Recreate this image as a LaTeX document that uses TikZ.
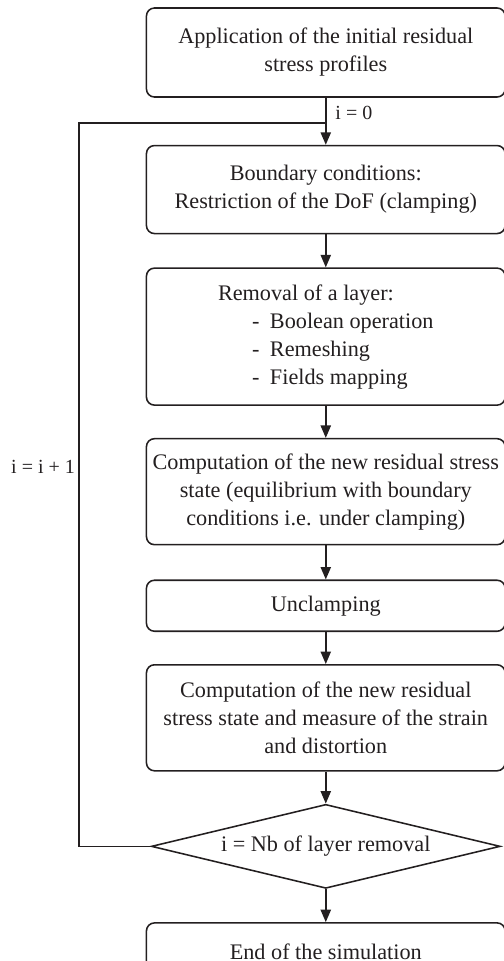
\documentclass[tikz,border=0pt]{standalone}
\usepackage{fontspec}
\setmainfont{Liberation Serif}
\usetikzlibrary{shapes.geometric, arrows.meta, positioning, calc}
\definecolor{inkDark}{HTML}{231F20}

\begin{document}
\begin{tikzpicture}[
  every node/.style={font=\fontsize{10}{12.6}\selectfont, text=inkDark},
  flowBox/.style={draw=inkDark, rounded corners=3.6pt, line width=0.7pt, align=center, inner xsep=0.5pt, inner ysep=0pt, minimum width=161.4pt},
  decNode/.style={draw=inkDark, diamond, aspect=4.15, line width=0.7pt, inner sep=0pt, minimum width=157pt, minimum height=37.8pt},
  flowArrow/.style={draw=inkDark, line width=0.7pt, -{Triangle[length=5.6pt, width=4.6pt]}},
  loopLine/.style={draw=inkDark, line width=0.7pt},
  stepLabel/.style={font=\fontsize{9}{11}\selectfont, inner sep=1.5pt}
]
  \useasboundingbox (0,0) rectangle (226.8pt,-432.45pt);

  \node[flowBox, minimum height=40.05pt] (app) at (146.6pt,-23.63pt) {Application of the initial residual\\stress profiles};

  \node[flowBox, minimum height=39.6pt, below=21.15pt of app] (bc) {Boundary conditions:\\Restriction of the DoF (clamping)};

  \node[flowBox, minimum height=61.65pt, below=14.85pt of bc, align=left] (rem) {Removal of a layer:\\
    \hspace*{15.3pt}\makebox[8.1pt][l]{-}Boolean operation\\
    \hspace*{15.3pt}\makebox[8.1pt][l]{-}Remeshing\\
    \hspace*{15.3pt}\makebox[8.1pt][l]{-}Fields mapping};

  \node[flowBox, minimum height=47.7pt, below=14.4pt of rem] (eq) {Computation of the new residual stress\\state (equilibrium with boundary\\conditions i.e. under clamping)};

  \node[flowBox, minimum height=22.95pt, below=15.3pt of eq] (uncl) {Unclamping};

  \node[flowBox, minimum height=47.7pt, below=14.4pt of uncl] (dist) {Computation of the new residual\\stress state and measure of the strain\\and distortion};

  \node[decNode, below=14.4pt of dist] (dec) {i = Nb of layer removal};

  \node[flowBox, minimum height=26pt, below=14.85pt of dec] (fin) {End of the simulation};

  % main chain
  \coordinate (join) at ($(app.south)!0.532!(bc.north)$);
  \draw[flowArrow] (app.south) -- node[right, pos=0.32, stepLabel, inner xsep=4pt] {i = 0} (bc.north);
  \draw[flowArrow] (bc) -- (rem);
  \draw[flowArrow] (rem) -- (eq);
  \draw[flowArrow] (eq) -- (uncl);
  \draw[flowArrow] (uncl) -- (dist);
  \draw[flowArrow] (dist) -- (dec);
  \draw[flowArrow] (dec) -- (fin);

  % loop back
  \coordinate (loopCol) at (35.55pt,0);
  \draw[loopLine] (dec.west) -- (dec.west -| loopCol) -- node[left, pos=0.524, stepLabel] {i = i + 1} (join -| loopCol) -- (join);

\end{tikzpicture}
\end{document}
